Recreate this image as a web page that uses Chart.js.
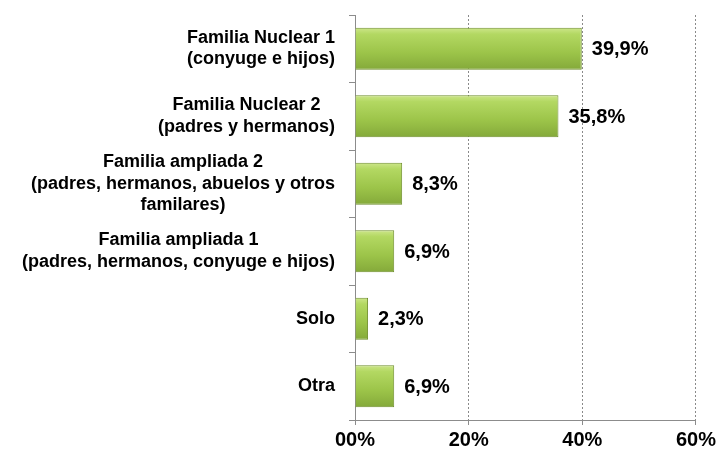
<!DOCTYPE html>
<html>
<head>
<meta charset="utf-8">
<script src="https://cdn.jsdelivr.net/npm/chart.js@4.4.1/dist/chart.umd.min.js"></script>
<style>
  html, body { margin: 0; padding: 0; background: #fff; }
  #wrap { width: 719px; height: 450px; }
</style>
</head>
<body>
<div id="wrap"><canvas id="grafico"></canvas></div>
<script>
const categorias = [
  ["Familia Nuclear 1", "(conyuge e hijos)"],
  ["Familia Nuclear 2", "(padres y hermanos)"],
  ["Familia ampliada 2", "(padres, hermanos, abuelos y otros", "familares)"],
  ["Familia ampliada 1", "(padres, hermanos, conyuge e hijos)"],
  ["Solo"],
  ["Otra"]
];
const valores = [39.9, 35.8, 8.3, 6.9, 2.3, 6.9];
const etiquetasValor = ["39,9%", "35,8%", "8,3%", "6,9%", "2,3%", "6,9%"];
const ticksX = [0, 20, 40, 60];
const etiquetasX = ["00%", "20%", "40%", "60%"];

const FUENTE = "'Liberation Sans', Arial, sans-serif";
const BAR_PCT = 0.62;

function rellenoBarra(ctx) {
  const chart = ctx.chart;
  const area = chart.chartArea;
  const y = chart.scales.y;
  if (!area || !y || ctx.dataIndex === undefined) return '#a3c94e';
  const centro = y.getPixelForValue(ctx.dataIndex);
  const alto = (area.bottom - area.top) / categorias.length * BAR_PCT;
  const g = chart.ctx.createLinearGradient(0, centro - alto / 2, 0, centro + alto / 2);
  g.addColorStop(0, '#cde68a');
  g.addColorStop(0.15, '#b3d862');
  g.addColorStop(0.6, '#9cc449');
  g.addColorStop(1, '#84a93a');
  return g;
}

// etiquetas del eje Y: bloques alineados a la derecha, líneas centradas
const etiquetasY = {
  id: 'etiquetasY',
  afterDraw(chart) {
    const { ctx } = chart;
    const y = chart.scales.y;
    const derecha = 335;
    const alto = 21.5;
    ctx.save();
    ctx.font = 'bold 18px ' + FUENTE;
    ctx.fillStyle = '#000';
    ctx.textBaseline = 'middle';
    ctx.textAlign = 'center';
    categorias.forEach((lineas, i) => {
      const ancho = Math.max(...lineas.map(l => ctx.measureText(l).width));
      const cx = derecha - ancho / 2;
      const cy = y.getPixelForValue(i);
      const y0 = cy - (lineas.length - 1) * alto / 2;
      lineas.forEach((l, k) => ctx.fillText(l, cx, y0 + k * alto));
    });
    ctx.restore();
  }
};

const etiquetasBarras = {
  id: 'etiquetasBarras',
  afterDatasetsDraw(chart) {
    const { ctx } = chart;
    const meta = chart.getDatasetMeta(0);
    ctx.save();
    ctx.font = 'bold 20px ' + FUENTE;
    ctx.fillStyle = '#000';
    ctx.textBaseline = 'middle';
    ctx.textAlign = 'left';
    meta.data.forEach((bar, i) => {
      ctx.fillText(etiquetasValor[i], bar.x + 10, bar.y + 1);
    });
    ctx.restore();
  }
};

new Chart(document.getElementById('grafico'), {
  type: 'bar',
  data: {
    labels: categorias,
    datasets: [{
      data: valores,
      backgroundColor: rellenoBarra,
      borderColor: '#6f8f2c',
      borderWidth: 1,
      barPercentage: BAR_PCT,
      categoryPercentage: 1
    }]
  },
  options: {
    indexAxis: 'y',
    responsive: true,
    maintainAspectRatio: false,
    animation: false,
    layout: { padding: { top: 15, right: 23, bottom: 0, left: 0 } },
    plugins: {
      legend: { display: false },
      tooltip: { enabled: false }
    },
    scales: {
      x: {
        min: 0,
        max: 60,
        afterBuildTicks: (s) => { s.ticks = ticksX.map(v => ({ value: v })); },
        afterFit: (s) => { s.height = 30; },
        border: { display: true, color: '#8c8c8c', width: 1, dash: [2, 2] },
        grid: {
          color: (c) => c.tick && c.tick.value === 0 ? 'rgba(0,0,0,0)' : '#8a8a8a',
          tickColor: '#8c8c8c',
          tickLength: 5,
          tickBorderDash: []
        },
        ticks: {
          padding: 3,
          color: '#000',
          font: { family: FUENTE, size: 20, weight: 'bold' },
          callback: (v) => etiquetasX[ticksX.indexOf(v)]
        }
      },
      y: {
        afterFit: (s) => { s.width = 355; },
        border: { display: true, color: '#8c8c8c', width: 1 },
        grid: {
          offset: true,
          drawOnChartArea: false,
          tickLength: 6,
          tickColor: '#8c8c8c'
        },
        ticks: {
          color: 'rgba(0,0,0,0)',
          font: { family: FUENTE, size: 1 },
          callback: () => ''
        }
      }
    }
  },
  plugins: [etiquetasY, etiquetasBarras]
});
</script>
</body>
</html>
